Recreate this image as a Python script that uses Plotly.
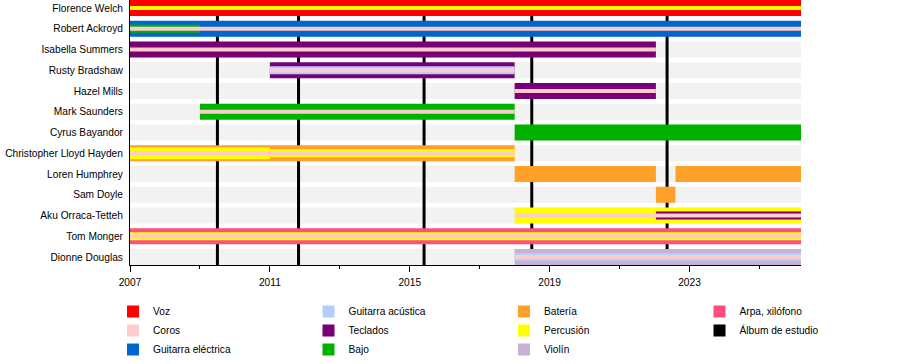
import plotly.graph_objects as go

# ---------------- data ----------------
members = [
    "Florence Welch", "Robert Ackroyd", "Isabella Summers", "Rusty Bradshaw",
    "Hazel Mills", "Mark Saunders", "Cyrus Bayandor", "Christopher Lloyd Hayden",
    "Loren Humphrey", "Sam Doyle", "Aku Orraca-Tetteh", "Tom Monger", "Dionne Douglas",
]

START = 2007.0
END = 2026.19

# one entry per bar segment (rank: 0 = main instrument, 1..3 = secondary roles)
seg_member = [
    "Florence Welch", "Florence Welch",
    "Robert Ackroyd", "Robert Ackroyd", "Robert Ackroyd",
    "Isabella Summers", "Isabella Summers",
    "Rusty Bradshaw", "Rusty Bradshaw", "Rusty Bradshaw",
    "Hazel Mills", "Hazel Mills",
    "Mark Saunders", "Mark Saunders",
    "Cyrus Bayandor",
    "Christopher Lloyd Hayden", "Christopher Lloyd Hayden",
    "Christopher Lloyd Hayden", "Christopher Lloyd Hayden",
    "Loren Humphrey", "Loren Humphrey",
    "Sam Doyle",
    "Aku Orraca-Tetteh", "Aku Orraca-Tetteh", "Aku Orraca-Tetteh",
    "Tom Monger", "Tom Monger", "Tom Monger",
    "Dionne Douglas", "Dionne Douglas", "Dionne Douglas",
]
seg_role = [
    "Voz", "Percusión",
    "Guitarra eléctrica", "Bajo", "Coros",
    "Teclados", "Coros",
    "Teclados", "Guitarra acústica", "Coros",
    "Teclados", "Coros",
    "Bajo", "Coros",
    "Bajo",
    "Batería", "Percusión", "Percusión", "Coros",
    "Batería", "Batería",
    "Batería",
    "Percusión", "Teclados", "Coros",
    "Arpa, xilófono", "Percusión", "Coros",
    "Violín", "Guitarra acústica", "Coros",
]
seg_start = [
    2007.0, 2007.0,
    2007.0, 2007.0, 2007.0,
    2007.0, 2007.0,
    2011.0, 2011.0, 2011.0,
    2018.0, 2018.0,
    2009.0, 2009.0,
    2018.0,
    2007.0, 2007.0, 2011.0, 2007.0,
    2018.0, 2022.6,
    2022.04,
    2018.0, 2022.04, 2018.0,
    2007.0, 2007.0, 2007.0,
    2018.0, 2018.0, 2018.0,
]
seg_end = [
    END, END,
    END, 2009.0, END,
    2022.04, 2022.04,
    2018.0, 2018.0, 2018.0,
    2022.04, 2022.04,
    2018.0, 2018.0,
    END,
    2018.0, 2011.0, 2018.0, 2018.0,
    2022.04, END,
    2022.6,
    END, END, END,
    END, END, END,
    END, END, END,
]
seg_rank = [
    0, 3,
    0, 2, 3,
    0, 3,
    0, 2, 3,
    0, 3,
    0, 3,
    0,
    0, 1, 2, 3,
    0, 0,
    0,
    0, 2, 3,
    0, 2, 3,
    0, 2, 3,
]

album_names = ["Lungs", "Ceremonials", "How Big, How Blue, How Beautiful",
               "High as Hope", "Dance Fever"]
album_dates = [2009.50, 2011.82, 2015.41, 2018.49, 2022.36]

major_ticks = [2007, 2011, 2015, 2019, 2023]

roles = ["Voz", "Coros", "Guitarra eléctrica",
         "Guitarra acústica", "Teclados", "Bajo",
         "Batería", "Percusión", "Violín",
         "Arpa, xilófono"]
role_colors = {
    "Voz": "#ff0000",
    "Coros": "#ffcccc",
    "Guitarra eléctrica": "#0066cc",
    "Guitarra acústica": "#b5ccff",
    "Teclados": "#770077",
    "Bajo": "#00b200",
    "Batería": "#ffa028",
    "Percusión": "#ffff00",
    "Violín": "#c8b2d0",
    "Arpa, xilófono": "#ff4f80",
}
ALBUM_LABEL = "Álbum de estudio"
ALBUM_COLOR = "#000000"

# ---------------- layout geometry ----------------
W, H = 900, 364
ML, MR, MT, MB = 130, 99, 0, 99
plot_h = H - MT - MB
bar_px = 16.0
n = len(members)
w_full = (n - 1) * bar_px / (plot_h - bar_px)
unit_px = plot_h / (n - 1 + w_full)
tier_w = [p / unit_px for p in (16.0, 12.0, 8.0, 4.0)]

FONT = "Liberation Sans, Arial, sans-serif"
FS = 10.2

legend_cols = ["legend", "legend2", "legend3", "legend4"]
legend_of = {}
rank_of = {}
col_items = [roles[0:3], roles[3:6], roles[6:9], roles[9:] + [ALBUM_LABEL]]
for c, items in enumerate(col_items):
    for k, r in enumerate(items):
        legend_of[r] = legend_cols[c]
        rank_of[r] = k + 1

fig = go.Figure()

shown = set()
for rank in range(4):
    for role in roles:
        idx = [i for i in range(len(seg_member))
               if seg_role[i] == role and seg_rank[i] == rank]
        if not idx:
            continue
        fig.add_trace(go.Bar(
            orientation="h",
            y=[seg_member[i] for i in idx],
            base=[seg_start[i] for i in idx],
            x=[seg_end[i] - seg_start[i] for i in idx],
            width=tier_w[rank],
            marker=dict(color=role_colors[role], line=dict(width=0)),
            name=role,
            legendgroup=role,
            showlegend=role not in shown,
            legend=legend_of[role],
            legendrank=rank_of[role],
            hoverinfo="skip",
        ))
        shown.add(role)

# legend entry for the album lines (zero-length bar, lines are drawn as shapes)
fig.add_trace(go.Bar(
    orientation="h", y=[members[0]], base=[album_dates[0]], x=[0],
    width=tier_w[3],
    marker=dict(color=ALBUM_COLOR, line=dict(width=0)),
    name=ALBUM_LABEL, legendgroup=ALBUM_LABEL,
    legend=legend_of[ALBUM_LABEL], legendrank=rank_of[ALBUM_LABEL],
    hoverinfo="skip",
))

shapes = []
# grey background band per member row
for i, m in enumerate(members):
    shapes.append(dict(
        type="rect", layer="below", xref="paper", x0=0, x1=1,
        yref="y", y0=i - w_full / 2, y1=i + w_full / 2,
        fillcolor="#f2f2f2", line=dict(width=0),
    ))
# studio album lines
for d in album_dates:
    shapes.append(dict(
        type="line", layer="below", xref="x", x0=d, x1=d,
        yref="paper", y0=0, y1=1,
        line=dict(color=ALBUM_COLOR, width=3),
    ))

leg_common = dict(
    xref="container", yref="container", xanchor="left", yanchor="top",
    orientation="v", font=dict(family=FONT, size=FS, color="#000000"),
    bgcolor="rgba(0,0,0,0)", borderwidth=0, tracegroupgap=0,
    itemclick=False, itemdoubleclick=False,
)
col_x = [113, 308.5, 504, 699.5]
leg_top = 297
legends = {}
for c, key in enumerate(legend_cols):
    legends[key] = dict(leg_common, x=col_x[c] / W, y=1 - leg_top / H)

fig.update_layout(
    width=W, height=H,
    margin=dict(l=ML, r=MR, t=MT, b=MB, pad=0, autoexpand=False),
    paper_bgcolor="#ffffff", plot_bgcolor="#ffffff",
    barmode="overlay",
    shapes=shapes,
    font=dict(family=FONT, size=FS, color="#000000"),
    showlegend=True,
    **legends,
)
fig.update_xaxes(
    range=[START, END], autorange=False, automargin=False,
    showgrid=False, zeroline=False,
    showline=True, linecolor="#000000", linewidth=1,
    tickmode="array", tickvals=major_ticks, ticktext=[str(t) for t in major_ticks],
    tickangle=0, ticklabelstandoff=2,
    ticks="outside", ticklen=6, tickwidth=1, tickcolor="#000000",
    minor=dict(ticks="outside", ticklen=3, tickwidth=1, tickcolor="#000000",
               tick0=2007, dtick=2, showgrid=False),
    tickfont=dict(family=FONT, size=FS, color="#000000"),
    fixedrange=True,
)
fig.update_yaxes(
    type="category", categoryorder="array", categoryarray=members,
    range=[n - 1 + w_full / 2, -w_full / 2], autorange=False, automargin=False,
    showgrid=False, zeroline=False,
    showline=True, linecolor="#000000", linewidth=1,
    ticks="", ticklabelstandoff=4,
    tickfont=dict(family=FONT, size=FS, color="#000000"),
    fixedrange=True,
)

fig.write_html(
    "out.html",
    config={"displayModeBar": False, "staticPlot": True},
    post_script="document.body.style.margin='0px';document.body.style.padding='0px';",
)
